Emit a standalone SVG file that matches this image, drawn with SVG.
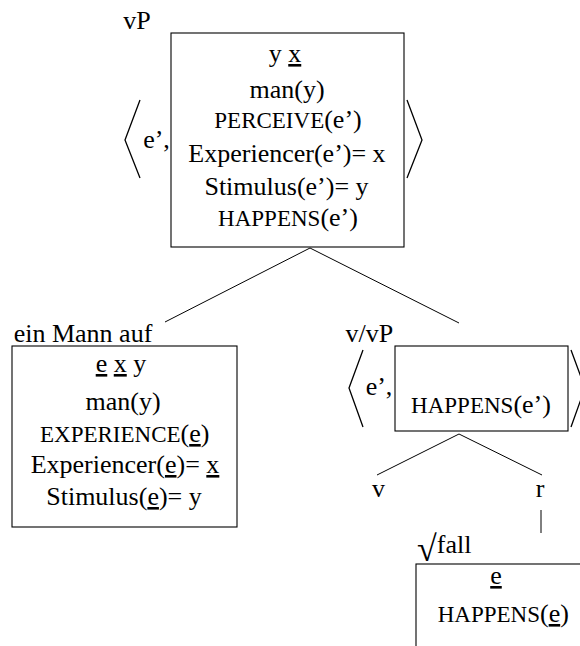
<svg xmlns="http://www.w3.org/2000/svg" width="580" height="646" viewBox="0 0 580 646">
<style>
text { font-family: "Liberation Serif", "Times New Roman", serif; font-size: 26px; fill: #000; text-anchor: middle; }
.sc { font-size: 23px; }
.u { text-decoration: underline; text-decoration-thickness: 1px; text-underline-offset: 6px; }
.box { fill: none; stroke: #000; stroke-width: 1.1; }
.br { fill: none; stroke: #000; stroke-width: 1.3; }
.edge { fill: none; stroke: #000; stroke-width: 1; }
</style>
<rect width="580" height="646" fill="#fff"/>
<g id="edges">
  <polyline class="edge" points="165,322 310,248 459,323"/>
  <polyline class="edge" points="377,475 459,434 542,475"/>
  <line class="edge" x1="541" y1="510" x2="541" y2="533"/>
</g>
<g id="vP">
  <text x="137" y="29">vP</text>
  <polyline class="br" points="140,100 125,140 140,178"/>
  <polyline class="br" points="407,100 422,140 407,178"/>
  <text x="156.5" y="148">e’,</text>
  <rect class="box" x="171" y="33" width="233" height="214"/>
  <text x="285" y="62">y <tspan class="u">x</tspan></text>
  <text x="287" y="98">man(y)</text>
  <text x="288" y="128"><tspan class="sc">PERCEIVE</tspan>(e’)</text>
  <text x="287" y="162">Experiencer(e’)= x</text>
  <text x="286.5" y="195">Stimulus(e’)= y</text>
  <text x="288" y="226"><tspan class="sc">HAPPENS</tspan>(e’)</text>
</g>
<g id="einMannAuf">
  <text x="83" y="342">ein Mann auf</text>
  <rect class="box" x="12" y="346" width="225" height="181"/>
  <text x="121" y="372"><tspan class="u">e</tspan> <tspan class="u">x</tspan> y</text>
  <text x="123" y="410">man(y)</text>
  <text x="124.7" y="442"><tspan class="sc">EXPERIENCE</tspan>(<tspan class="u">e</tspan>)</text>
  <text x="125" y="473">Experiencer(<tspan class="u">e</tspan>)= <tspan class="u">x</tspan></text>
  <text x="124" y="505">Stimulus(<tspan class="u">e</tspan>)= y</text>
</g>
<g id="vvP">
  <text x="369.3" y="342">v/vP</text>
  <polyline class="br" points="363,350 349,388 363,427"/>
  <polyline class="br" points="571,350 585,388 571,427"/>
  <text x="379" y="395">e’,</text>
  <rect class="box" x="395" y="346" width="173" height="85"/>
  <text x="481" y="413"><tspan class="sc">HAPPENS</tspan>(e’)</text>
</g>
<g id="v">
  <text x="378.5" y="497">v</text>
</g>
<g id="r">
  <text x="540" y="497">r</text>
</g>
<g id="fall">
  <text x="417" y="553" style="text-anchor:start"><tspan font-size="36" dy="8">√</tspan><tspan dy="-8">fall</tspan></text>
  <rect class="box" x="416" y="564" width="170" height="90"/>
  <text x="496" y="584"><tspan class="u">e</tspan></text>
  <text x="503.3" y="622"><tspan class="sc">HAPPENS</tspan>(<tspan class="u">e</tspan>)</text>
</g>
</svg>
